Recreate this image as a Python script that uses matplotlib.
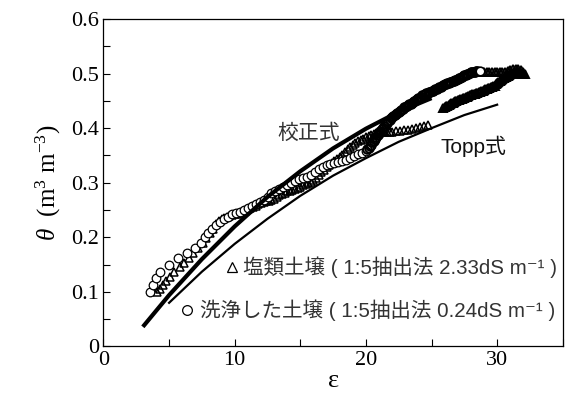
import matplotlib

matplotlib.use("Agg")
import matplotlib.pyplot as plt

plt.rcParams["font.family"] = ["Liberation Serif", "DejaVu Serif"]
plt.rcParams["mathtext.fontset"] = "custom"
plt.rcParams["mathtext.rm"] = "Liberation Serif"
plt.rcParams["mathtext.it"] = "Liberation Serif:italic"
plt.rcParams["mathtext.sf"] = "Liberation Sans"

JP = ["Liberation Sans", "Noto Sans CJK JP", "DejaVu Sans"]

# Topp equation curve
topp_eps = [5, 7.5, 10, 12.5, 15, 17.5, 20, 22.5, 25, 27.5, 30]
topp_theta = [0.080, 0.137, 0.188, 0.234, 0.276, 0.313, 0.345, 0.375, 0.400, 0.424, 0.443]

# calibration curve (thick line)
cal_eps = [3.0, 5, 7.5, 10, 12.5, 15, 17.5, 20, 22.5, 25]
cal_theta = [0.036, 0.094, 0.160, 0.220, 0.274, 0.321, 0.363, 0.399, 0.430, 0.455]

# salt soil (triangles)
salt_eps = [
    4.06, 4.3, 4.5, 4.8, 5.1, 5.4, 5.8, 6.1, 6.5, 6.85, 7.2, 7.6, 7.85, 8.1, 8.35, 8.6,
    8.8, 9.0, 9.2, 9.4, 9.6, 9.8, 10.0, 10.2, 10.4, 10.6, 10.8, 11.0, 11.2, 11.4,
    11.6, 11.8, 12.0, 12.2, 12.4, 12.6, 12.8, 13.0, 13.2, 13.4, 13.6, 13.8, 14.0,
    14.2, 14.4, 14.6, 14.8, 15.0, 15.2, 15.4, 15.6, 15.8, 16.0, 16.2, 16.4, 16.6,
    16.8, 17.0, 17.2, 17.4, 17.6, 17.8, 18.0, 18.2, 18.4, 18.6, 18.8, 19.0, 19.2,
    19.4, 19.6, 19.8, 20.0, 20.2, 20.4, 20.6, 20.8, 21.0, 21.2, 21.4, 21.6, 21.8,
    22.0, 22.3, 22.6, 22.9, 23.2, 23.5, 23.8, 24.1, 24.4, 24.7,
    25.9, 26.0, 26.1, 26.2, 26.3, 26.4, 26.5, 26.6, 26.7, 26.8, 26.9, 27.0, 27.1,
    27.2, 27.3, 27.4, 27.5, 27.6, 27.7, 27.8, 27.9, 28.0, 28.1, 28.2, 28.3, 28.4,
    28.5, 28.6, 28.7, 28.8, 28.9, 29.0, 29.1, 29.2, 29.3, 29.4, 29.5, 29.6, 29.7,
    29.8, 29.9, 30.0, 30.1, 30.2, 30.3, 30.4, 30.5, 30.6, 30.7, 30.8, 30.9, 31.0,
    31.1, 31.2, 31.3, 31.4, 31.5, 31.6, 31.7, 31.8, 31.9, 32.0, 32.1,
    32.0, 31.8, 31.6, 31.4, 31.2, 31.0, 30.8, 30.6, 30.4, 30.2, 30.0, 29.8, 29.6,
    29.4, 29.2, 29.0,
]
salt_theta = [
    0.100, 0.106, 0.112, 0.120, 0.128, 0.136, 0.146, 0.153, 0.162, 0.171, 0.180,
    0.189, 0.198, 0.207, 0.216, 0.225,
    0.229, 0.233, 0.235, 0.237, 0.239, 0.240, 0.242, 0.243, 0.245, 0.247, 0.249,
    0.251, 0.253, 0.256, 0.258, 0.261, 0.263, 0.264, 0.266, 0.267, 0.269, 0.271,
    0.274, 0.277, 0.279, 0.282, 0.284, 0.285, 0.287, 0.289, 0.291, 0.293, 0.296,
    0.298, 0.300, 0.302, 0.305, 0.309, 0.314, 0.319, 0.324, 0.329, 0.333, 0.337,
    0.340, 0.343, 0.347, 0.351, 0.356, 0.361, 0.366, 0.370, 0.373, 0.376, 0.379,
    0.381, 0.383, 0.385, 0.387, 0.389, 0.391, 0.392, 0.393, 0.393, 0.393, 0.393,
    0.393, 0.394, 0.395, 0.396, 0.397, 0.399, 0.400, 0.402, 0.404, 0.406,
    0.437, 0.438, 0.440, 0.441, 0.443, 0.444, 0.446, 0.447, 0.448, 0.449, 0.450,
    0.451, 0.452, 0.453, 0.454, 0.455, 0.456, 0.457, 0.458, 0.459, 0.460, 0.461,
    0.462, 0.462, 0.463, 0.464, 0.465, 0.466, 0.467, 0.468, 0.469, 0.470, 0.471,
    0.472, 0.473, 0.474, 0.475, 0.476, 0.477, 0.478, 0.480, 0.482, 0.484, 0.486,
    0.488, 0.490, 0.491, 0.493, 0.494, 0.496, 0.497, 0.499, 0.500, 0.501, 0.502,
    0.503, 0.503, 0.503, 0.502, 0.501, 0.500, 0.499, 0.499,
    0.503, 0.507, 0.509, 0.509, 0.508, 0.506, 0.504, 0.503, 0.502, 0.502, 0.502,
    0.503, 0.503, 0.503, 0.502, 0.502,
]

# washed soil (circles)
wash_eps = [
    3.55, 3.8, 4.0, 4.3, 5.0, 5.7, 6.4, 7.0, 7.4, 7.75, 8.0, 8.3,
    8.6, 8.9, 9.2, 9.5, 9.8, 10.1, 10.4, 10.7, 11.0, 11.3, 11.6, 11.9, 12.2, 12.5,
    12.8, 13.1, 13.4, 13.7, 14.0, 14.3, 14.6, 14.9, 15.2, 15.5, 15.8, 16.1, 16.4,
    16.7, 17.0, 17.3, 17.6, 17.9, 18.2, 18.5, 18.8, 19.1, 19.4, 19.7, 20.0,
    20.1, 20.2, 20.3, 20.4, 20.5, 20.6, 20.7, 20.8, 20.9, 21.0, 21.1, 21.2, 21.3,
    21.4, 21.5, 21.6, 21.7, 21.8, 21.9, 22.0, 22.1, 22.2, 22.3, 22.4, 22.5, 22.6,
    22.7, 22.8, 22.9, 23.0, 23.1, 23.2, 23.3, 23.4, 23.5, 23.6, 23.7, 23.8, 23.9,
    24.0, 24.1, 24.2, 24.3, 24.4, 24.5, 24.6, 24.7, 24.8, 24.9, 25.0, 25.1, 25.2,
    25.3, 25.4, 25.5, 25.6, 25.7, 25.8, 25.9, 26.0, 26.1, 26.2, 26.3, 26.4, 26.5,
    26.6, 26.7, 26.8, 26.9, 27.0, 27.1, 27.2, 27.3, 27.4, 27.5, 27.6, 27.7, 27.8,
    27.9, 28.0, 28.1, 28.2, 28.3, 28.4, 28.5, 28.7,
]
wash_theta = [
    0.099, 0.113, 0.125, 0.137, 0.149, 0.163, 0.171, 0.180, 0.189, 0.201, 0.208,
    0.216, 0.222, 0.228, 0.233, 0.238, 0.242, 0.245, 0.247, 0.250, 0.254, 0.258,
    0.261, 0.264, 0.268, 0.274, 0.281, 0.285, 0.289, 0.293, 0.296, 0.299, 0.303,
    0.306, 0.308, 0.310, 0.315, 0.320, 0.325, 0.329, 0.332, 0.335, 0.337, 0.338,
    0.340, 0.342, 0.345, 0.349, 0.352, 0.355, 0.359,
    0.362, 0.364, 0.367, 0.370, 0.374, 0.377, 0.381, 0.384, 0.388, 0.391, 0.395,
    0.398, 0.401, 0.404, 0.407, 0.410, 0.413, 0.415, 0.418, 0.420, 0.422, 0.424,
    0.426, 0.428, 0.430, 0.432, 0.434, 0.436, 0.438, 0.439, 0.441, 0.442, 0.444,
    0.445, 0.447, 0.448, 0.450, 0.451, 0.453, 0.455, 0.456, 0.458, 0.460, 0.461,
    0.463, 0.464, 0.465, 0.466, 0.467, 0.468, 0.469, 0.470, 0.471, 0.472, 0.474,
    0.475, 0.476, 0.477, 0.479, 0.480, 0.481, 0.482, 0.483, 0.484, 0.485, 0.486,
    0.487, 0.488, 0.489, 0.490, 0.491, 0.492, 0.494, 0.495, 0.497, 0.498, 0.499,
    0.500, 0.501, 0.502, 0.502, 0.503, 0.503, 0.504, 0.504, 0.504,
]

SALT_DENSE = 92  # first index of the tightly packed upper-right readings
WASH_DENSE = 51

fig = plt.figure(figsize=(5.67, 4.01), dpi=100)
ax = fig.add_axes([0.1825, 0.136, 0.81, 0.8166])

tri = dict(linestyle="none", marker="^", markersize=6, markerfacecolor="none",
           markeredgecolor="black", zorder=3)
ax.plot(salt_eps[:SALT_DENSE], salt_theta[:SALT_DENSE], markeredgewidth=1.1, **tri)
ax.plot(salt_eps[SALT_DENSE:], salt_theta[SALT_DENSE:], markeredgewidth=1.4, **tri)

circ = dict(linestyle="none", marker="o", markersize=6.2, markeredgecolor="black", zorder=4)
ax.plot(wash_eps[:WASH_DENSE], wash_theta[:WASH_DENSE], markerfacecolor="white",
        markeredgewidth=0.9, **circ)
ax.plot(wash_eps[WASH_DENSE:-1], wash_theta[WASH_DENSE:-1], markerfacecolor="none",
        markeredgewidth=1.4, **circ)
ax.plot(wash_eps[-1:], wash_theta[-1:], markerfacecolor="white", markeredgewidth=1.2, **circ)

ax.plot(cal_eps, cal_theta, color="black", linewidth=3.0, solid_capstyle="butt", zorder=5)
ax.plot(topp_eps, topp_theta, color="black", linewidth=1.6, zorder=5)

ax.text(15.6, 0.391, "校正式", family=JP, fontsize=15, color="#333333",
        ha="center", va="center")
ax.text(28.2, 0.366, "Topp式", family=JP, fontsize=15, color="#111111",
        ha="center", va="center")

# legend rows drawn by hand as in the original
ax.plot([9.79], [0.1455], linestyle="none", marker="^", markersize=7,
        markerfacecolor="white", markeredgecolor="black", markeredgewidth=0.9)
ax.text(34.6, 0.1455, "塩類土壌 ( 1:5抽出法 2.33dS m\u207b\u00b9 )", family=JP,
        fontsize=14.8, color="#333333", ha="right", va="center")
ax.plot([6.4], [0.0668], linestyle="none", marker="o", markersize=7,
        markerfacecolor="white", markeredgecolor="black", markeredgewidth=0.9)
ax.text(34.45, 0.0668, "洗浄した土壌 ( 1:5抽出法 0.24dS m\u207b\u00b9 )", family=JP,
        fontsize=14.8, color="#333333", ha="right", va="center")

ax.set_xlim(0, 35)
ax.set_ylim(0, 0.6)
ax.set_xticks([0, 10, 20, 30])
ax.set_xticklabels(["0", "10", "20", "30"])
ax.set_xticks([5, 15, 25, 35], minor=True)
ax.set_yticks([0, 0.1, 0.2, 0.3, 0.4, 0.5, 0.6])
ax.set_yticklabels(["0", "0.1", "0.2", "0.3", "0.4", "0.5", "0.6"])
ax.set_yticks([0.05, 0.15, 0.25, 0.35, 0.45, 0.55], minor=True)
ax.tick_params(which="both", direction="in", length=5, width=0.8, top=False, right=False,
               labelsize=16)
ax.tick_params(axis="x", which="major", pad=3)
ax.tick_params(axis="y", which="major", pad=3)
for spine in ax.spines.values():
    spine.set_linewidth(0.9)

ax.set_xlabel("ε", fontsize=19, labelpad=0)
ax.set_ylabel(r"$\theta$  (m$^{3}$ m$^{-3}$)", fontsize=18, labelpad=6)

fig.savefig("out.png", dpi=100)
